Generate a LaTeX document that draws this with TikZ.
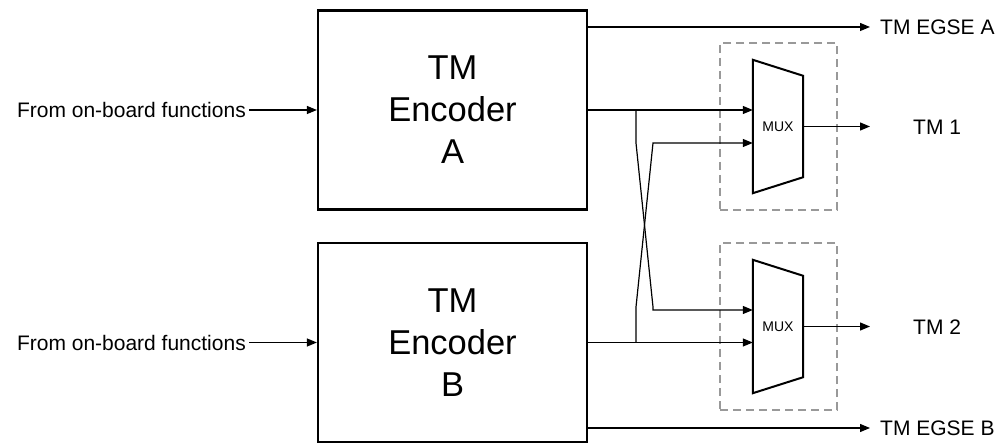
\documentclass[tikz,border=0pt]{standalone}
\usepackage{fontspec}
\setmainfont{Liberation Sans}
\usetikzlibrary{arrows.meta, positioning, calc}

\begin{document}
\begin{tikzpicture}[
        x=1pt, y=-1pt,
        encoder/.style={draw, rectangle, line width=2.2pt, minimum width=269pt, minimum height=199pt, align=center, font=\fontsize{34.5}{42}\selectfont},
        mux/.style={rectangle, minimum width=50pt, minimum height=133pt, inner sep=0pt, font=\fontsize{14}{16}\selectfont},
        muxline/.style={line width=2pt, line join=miter},
        group/.style={draw=gray!80, dash pattern=on 8pt off 5pt, line width=1.2pt, minimum width=117pt, minimum height=167pt},
        lbl/.style={inner sep=0pt, font=\fontsize{21}{25}\selectfont},
        arr/.style={line width=1.2pt, line join=miter, -{Triangle[length=10pt, width=8pt]}}
    ]
        \useasboundingbox (0,0) rectangle (998,443);

        % The Encoder Blocks
        \node[encoder] (encA) at (452.5,110) {TM\\Encoder\\A};
        \node[encoder] (encB) at (452.5,342.5) {TM\\Encoder\\B};

        % Inputs
        \node[lbl, inner sep=3pt, anchor=east] (inA) at (249,110) {From on-board functions};
        \node[lbl, inner sep=3pt, anchor=east] (inB) at (249,342.5) {From on-board functions};
        \draw[arr] (inA) -- (encA);
        \draw[arr] (inB) -- (encB);

        % Multiplexers with their dashed frames
        \node[group] (grp1) at (778.5,126.5) {};
        \node[group] (grp2) at (778.5,326.5) {};
        \node[mux] (mux1) at (778,126.5) {MUX};
        \node[mux] (mux2) at (778,326.5) {MUX};
        \foreach \m in {mux1,mux2}
            \draw[muxline] (\m.north west) -- ([yshift=-16pt]\m.north east) -- ([yshift=16pt]\m.south east) -- (\m.south west) -- cycle;

        % Direct links
        \draw[arr] (encA.east) -- (encA.east -| mux1.west);
        \draw[arr] (encB.east) -- (encB.east -| mux2.west);

        % Cross links
        \coordinate (splitA) at (636,110);
        \coordinate (splitB) at (636,342.5);
        \coordinate (bendA) at (653,310);
        \coordinate (bendB) at (653,143);
        \draw[arr] (splitA) -- (636,143) -- (653,307) -- (bendA) -- (bendA -| mux2.west);
        \draw[arr] (splitB) -- (636,307) -- (bendB) -- (bendB -| mux1.west);

        % Outputs
        \node[lbl, anchor=west] (tm1) at (913,127) {TM 1};
        \node[lbl, anchor=west] (tm2) at (913,327) {TM 2};
        \coordinate (out1) at (870,126.5);
        \coordinate (out2) at (870,326.5);
        \draw[arr] (mux1.east) -- (out1);
        \draw[arr] (mux2.east) -- (out2);

        % EGSE outputs
        \node[lbl, anchor=west] (egseA) at (880,27) {TM EGSE A};
        \node[lbl, anchor=west] (egseB) at (880,428) {TM EGSE B};
        \draw[arr] (encA.east |- egseA.west) -- ([xshift=-10pt]egseA.west);
        \draw[arr] (encB.east |- egseB.west) -- ([xshift=-10pt]egseB.west);

    \end{tikzpicture}
\end{document}
